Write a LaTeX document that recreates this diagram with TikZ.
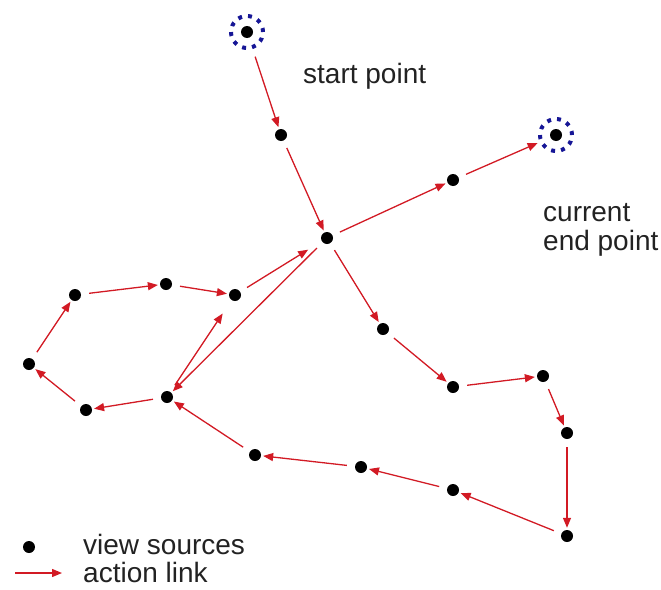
\documentclass[tikz,border=0pt]{standalone}
\usepackage{fontspec}
\setmainfont{Liberation Sans}
\usetikzlibrary{arrows.meta}
\definecolor{linkred}{RGB}{210,26,36}
\definecolor{ringblue}{RGB}{22,22,150}
\definecolor{inkgray}{RGB}{34,34,34}
\tikzset{
  src/.style={circle,fill=black,inner sep=0pt,minimum size=12pt},
  ring/.style={circle,draw=ringblue,line width=4pt,
    dash pattern=on 4pt off 6.05pt,inner sep=0pt,minimum size=32pt},
  link/.style={-{Triangle[length=10pt,width=8pt]},line width=1.3pt,
    draw=linkred,shorten <=8pt,shorten >=2pt},
  farlink/.style={link,shorten >=16pt},
  lab/.style={font=\fontsize{28}{29}\selectfont,text=inkgray,
    inner sep=0pt,align=left}
}
\begin{document}
\begin{tikzpicture}[x=1pt,y=-1pt]
  \useasboundingbox (0,0) rectangle (661,589);
  \node[ring] (startring) at (247,32) {};
  \node[src] (startdot) at (247,32) {};
  \node[ring] (endring) at (556,135) {};
  \node[src] (enddot) at (556,135) {};
  \node[src] (p1) at (281,135) {};
  \node[src] (cross) at (327,238) {};
  \node[src] (p2) at (453,180) {};
  \node[src] (q1) at (383,329) {};
  \node[src] (q2) at (453,387) {};
  \node[src] (q3) at (543,376) {};
  \node[src] (q4) at (567,433) {};
  \node[src] (q5) at (567,536) {};
  \node[src] (q6) at (453,490) {};
  \node[src] (q7) at (361,467) {};
  \node[src] (q8) at (255,455) {};
  \node[src] (hub) at (167,397) {};
  \node[src] (l1) at (86,410) {};
  \node[src] (l2) at (29,364) {};
  \node[src] (l3) at (75,295) {};
  \node[src] (l4) at (166,284) {};
  \node[src] (l5) at (235,295) {};
  \draw[link] (startring)--(p1);
  \draw[link] (p1)--(cross);
  \draw[link] (cross)--(p2);
  \draw[link] (p2)--(endring);
  \draw[link] (cross)--(q1);
  \draw[link] (q1)--(q2);
  \draw[link] (q2)--(q3);
  \draw[link] (q3)--(q4);
  \draw[link] (q4)--(q5);
  \draw[link] (q5)--(q6);
  \draw[link] (q6)--(q7);
  \draw[link] (q7)--(q8);
  \draw[link] (q8)--(hub);
  \draw[link] (hub)--(l1);
  \draw[link] (l1)--(l2);
  \draw[link] (l2)--(l3);
  \draw[link] (l3)--(l4);
  \draw[link] (l4)--(l5);
  \draw[farlink] (l5)--(cross);
  \draw[farlink] (hub)--(l5);
  \draw[link] (cross)--(hub);
  \node[lab,anchor=base west] (startlab) at (303,83) {start point};
  \node[lab,anchor=base west] (endlab) at (543,250) {current\\end point};
  \node[src] (legdot) at (29,547) {};
  \coordinate (legfrom) at (15,573);
  \coordinate (legto) at (62,573);
  \draw[link,shorten <=0pt,shorten >=0pt] (legfrom)--(legto);
  \node[lab,anchor=base west] (dotlab) at (83,554) {view sources};
  \node[lab,anchor=base west] (linklab) at (83,582) {action link};
\end{tikzpicture}
\end{document}
